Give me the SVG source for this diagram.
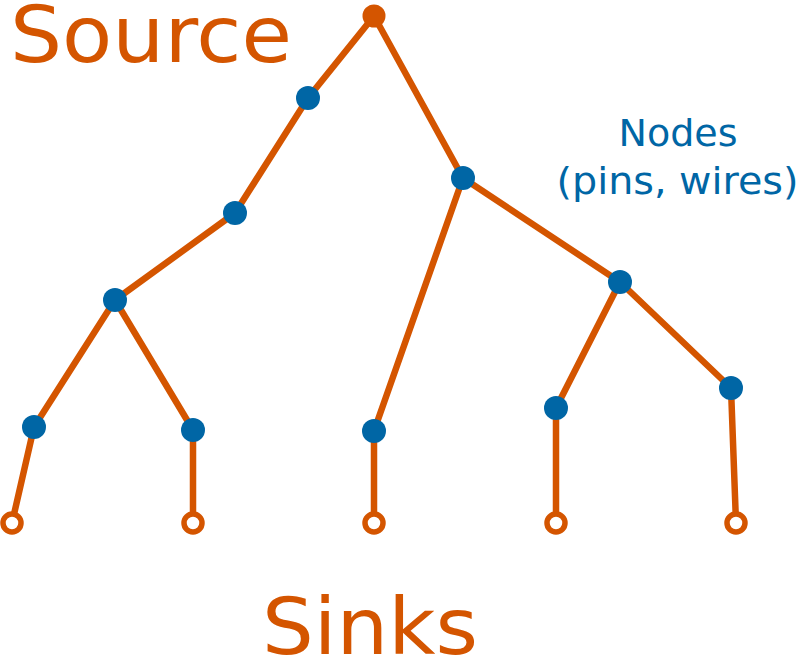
<svg xmlns="http://www.w3.org/2000/svg" width="799" height="658" viewBox="0 0 799 658">
<style>
.e{stroke:#d45500;stroke-width:6.5;fill:none;stroke-linecap:round;stroke-linejoin:round}
.n{fill:#0066a5}
.s{fill:#d45500}
.k{fill:#fff;stroke:#d45500;stroke-width:5.5}
.big{font-family:"DejaVu Sans",Verdana,sans-serif;font-size:79px;fill:#d45500}
.lab{font-family:"DejaVu Sans",Verdana,sans-serif;font-size:38px;fill:#0066a5;text-anchor:middle}
</style>
<g id="connectors">
<path class="e" d="M374,16L308,98L235,213L115,300L34,427L12,523"/>
<path class="e" d="M115,300L193,430L193,523"/>
<path class="e" d="M374,16L463,178L374,431L374,523"/>
<path class="e" d="M463,178L620,282L556,408L556,523"/>
<path class="e" d="M620,282L731,388L736,523"/>
</g>
<g id="source"><circle class="s" cx="374" cy="16" r="11.5"/></g>
<g id="n1"><circle class="n" cx="308" cy="98" r="12"/></g>
<g id="n2"><circle class="n" cx="463" cy="178" r="12"/></g>
<g id="n3"><circle class="n" cx="235" cy="213" r="12"/></g>
<g id="n4"><circle class="n" cx="115" cy="300" r="12"/></g>
<g id="n5"><circle class="n" cx="620" cy="282" r="12"/></g>
<g id="n6"><circle class="n" cx="34" cy="427" r="12"/></g>
<g id="n7"><circle class="n" cx="193" cy="430" r="12"/></g>
<g id="n8"><circle class="n" cx="374" cy="431" r="12"/></g>
<g id="n9"><circle class="n" cx="556" cy="408" r="12"/></g>
<g id="n10"><circle class="n" cx="731" cy="388" r="12"/></g>
<g id="sink1"><circle class="k" cx="12" cy="523" r="9"/></g>
<g id="sink2"><circle class="k" cx="193" cy="523" r="9"/></g>
<g id="sink3"><circle class="k" cx="374" cy="523" r="9"/></g>
<g id="sink4"><circle class="k" cx="556" cy="523" r="9"/></g>
<g id="sink5"><circle class="k" cx="736" cy="523" r="9"/></g>
<g id="labels">
<text class="big" x="10" y="62" textLength="282" lengthAdjust="spacingAndGlyphs">Source</text>
<text class="big" x="262" y="654" textLength="216" lengthAdjust="spacingAndGlyphs">Sinks</text>
<text class="lab" x="678" y="146">Nodes</text>
<text class="lab" x="677.5" y="194" textLength="242" lengthAdjust="spacingAndGlyphs">(pins, wires)</text>
</g>
</svg>
